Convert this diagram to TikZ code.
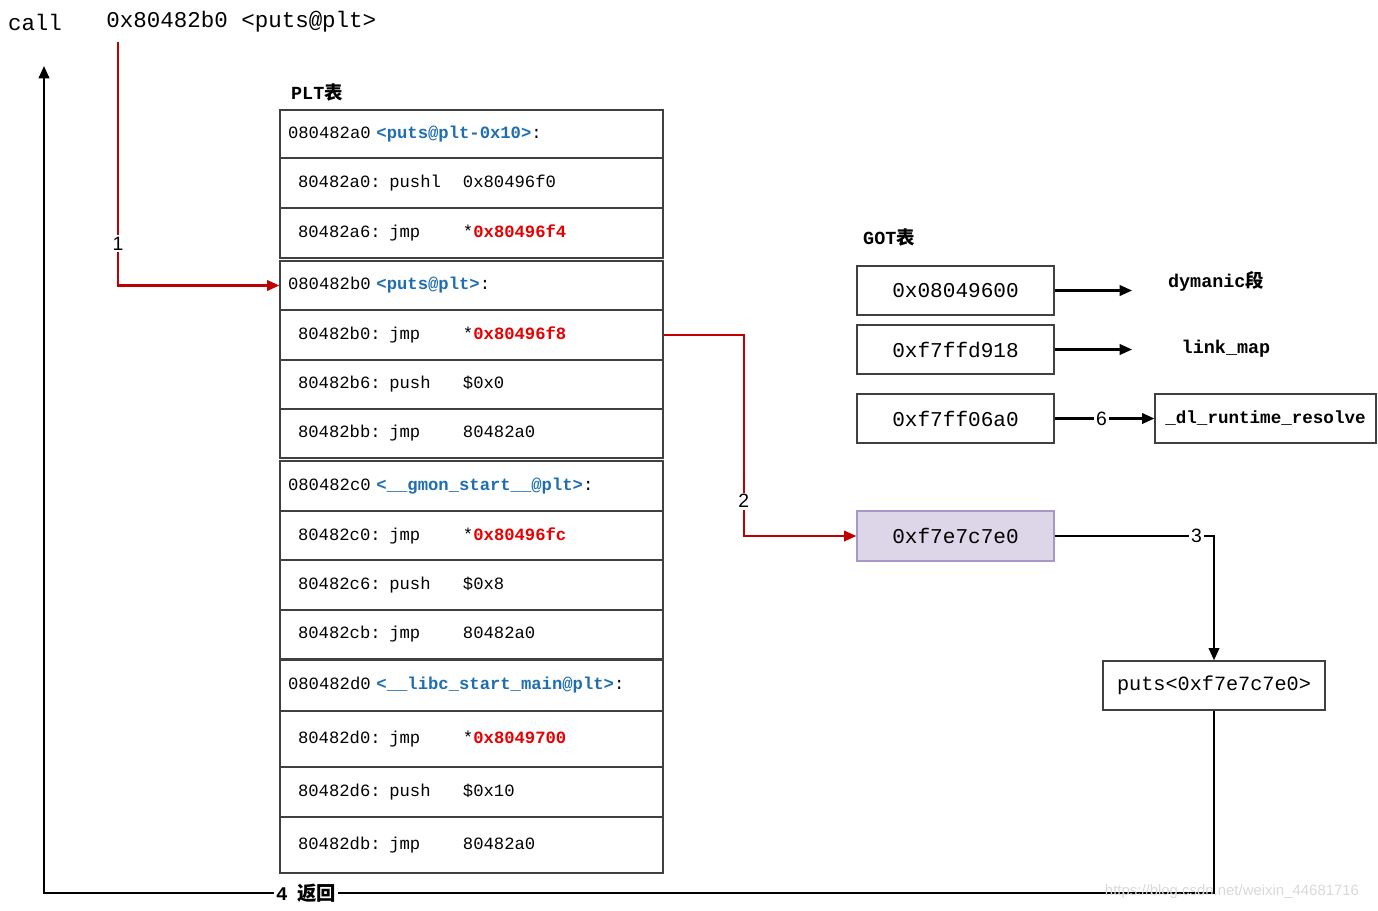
\documentclass[tikz,border=0pt]{standalone}
\usepackage{fontspec}
\setmainfont{Liberation Mono}
\setsansfont{Liberation Sans}
\newfontfamily\cjk{Noto Sans CJK SC}
\usetikzlibrary{arrows.meta}
\definecolor{symblue}{RGB}{31,110,175}
\definecolor{addrred}{RGB}{230,0,0}
\definecolor{flowred}{RGB}{192,0,0}
\definecolor{gotfill}{RGB}{221,214,232}
\definecolor{gotdraw}{RGB}{168,152,200}
\definecolor{boxline}{RGB}{64,64,64}
\newcommand\sym[1]{\textcolor{symblue}{\textbf{#1}}}
\newcommand\addr[1]{\textcolor{addrred}{\textbf{#1}}}
\newcommand\insn[2]{\makebox[3.3cm][l]{#1}#2}

\begin{document}
\begin{tikzpicture}[x=0.02cm, y=-0.02cm]
  \tikzset{
    hdr/.style={draw=boxline, line width=0.8pt, minimum width=7.66cm, minimum height=#1,
      text width=7.34cm, inner xsep=0.16cm, inner ysep=0pt, align=left,
      font=\fontsize{9.8}{12}\selectfont},
    ins/.style={hdr=#1, text width=6.94cm, inner xsep=0.36cm},
    gotbox/.style={draw=boxline, line width=0.8pt, minimum width=3.94cm, minimum height=0.98cm,
      inner sep=0pt, font=\fontsize{12}{14}\selectfont},
    title/.style={font=\bfseries\fontsize{10.5}{12}\selectfont},
    flow/.style={draw=flowred, line width=1.2pt, -{Triangle[length=7pt,width=6pt]}},
    link/.style={line width=1.2pt, -{Triangle[length=7pt,width=6pt]}},
    numlabel/.style={fill=white, inner sep=1pt, font=\sffamily\fontsize{11}{12}\selectfont}
  }
  \useasboundingbox (0,0) rectangle (1378,910);

  % Call
  \node[font=\fontsize{12.8}{14}\selectfont] (callop) at (35,22) {call};
  \node[font=\fontsize{12.8}{14}\selectfont, anchor=west, inner sep=0pt] (callt) at (106,22) {0x80482b0 <puts@plt>};

  % PLT
  \node[title] (pltt) at (317,92) {PLT{\cjk 表}};

  \node[hdr=0.96cm] (res0) at (471.5,134) {080482a0 \sym{<puts@plt-0x10>}:};
  \node[ins=1cm] (res1) at (471.5,183) {\insn{80482a0: pushl}{0x80496f0}};
  \node[ins=1cm] (res2) at (471.5,233) {\insn{80482a6: jmp}{*\addr{0x80496f4}}};

  \node[hdr=0.98cm] (puts0) at (471.5,285.5) {080482b0 \sym{<puts@plt>}:};
  \node[ins=1cm] (puts1) at (471.5,335) {\insn{80482b0: jmp}{*\addr{0x80496f8}}};
  \node[ins=0.98cm] (puts2) at (471.5,384.5) {\insn{80482b6: push}{\$0x0}};
  \node[ins=0.98cm] (puts3) at (471.5,433.5) {\insn{80482bb: jmp}{80482a0}};

  \node[hdr=1cm] (gmon0) at (471.5,486) {080482c0 \sym{<\_\_gmon\_start\_\_@plt>}:};
  \node[ins=0.98cm] (gmon1) at (471.5,535.5) {\insn{80482c0: jmp}{*\addr{0x80496fc}}};
  \node[ins=1cm] (gmon2) at (471.5,585) {\insn{80482c6: push}{\$0x8}};
  \node[ins=0.98cm] (gmon3) at (471.5,634.5) {\insn{80482cb: jmp}{80482a0}};

  \node[hdr=1.02cm] (libc0) at (471.5,685.5) {080482d0 \sym{<\_\_libc\_start\_main@plt>}:};
  \node[ins=1.12cm] (libc1) at (471.5,739) {\insn{80482d0: jmp}{*\addr{0x8049700}}};
  \node[ins=1cm] (libc2) at (471.5,792) {\insn{80482d6: push}{\$0x10}};
  \node[ins=1.12cm] (libc3) at (471.5,845) {\insn{80482db: jmp}{80482a0}};

  % GOT
  \node[title] (gott) at (889,237) {GOT{\cjk 表}};

  \node[gotbox] (got0) at (955.5,290.5) {0x08049600};
  \node[gotbox] (got1) at (955.5,349.5) {0xf7ffd918};
  \node[gotbox] (got2) at (955.5,418.5) {0xf7ff06a0};
  \node[gotbox, fill=gotfill, draw=gotdraw, minimum height=1cm] (got3) at (955.5,536) {0xf7e7c7e0};

  \node[title] (dyn) at (1216,281) {dymanic{\cjk 段}};
  \node[title] (lmap) at (1226,349) {link\_map};
  \node[gotbox, minimum width=4.42cm, font=\bfseries\fontsize{10}{12}\selectfont] (dlres) at (1265.5,418.5) {\_dl\_runtime\_resolve};
  \node[gotbox, minimum width=4.44cm, font=\fontsize{11.5}{14}\selectfont] (putsfn) at (1214,685.5) {puts<0xf7e7c7e0>};

  % Edges
  \coordinate (c1) at (118,42);
  \coordinate (d0) at (1132,290.5);
  \coordinate (d1) at (1132,349.5);
  \coordinate (retb) at (44,893);
  \coordinate (ret) at (44,66);

  \draw[flow] (c1) |- node[numlabel, pos=0.414] {1} (puts0.west);
  \draw[flow] (puts1.east) -- ++(80,0) |- node[numlabel, pos=0.413] {2} (got3.west);
  \draw[link] (got3.east) -| node[numlabel, pos=0.445] {3} (putsfn.north);
  \draw[link] (putsfn.south) |- node[numlabel, font=\bfseries\fontsize{11}{12}\selectfont, pos=0.888] {4\enspace{\cjk 返回}} (retb) -- (ret);
  \draw[link] (got0.east) -- (d0);
  \draw[link] (got1.east) -- (d1);
  \draw[link] (got2.east) -- node[numlabel, pos=0.47] {6} (dlres.west);

  % Watermark
  \node[text=gray!30, font=\sffamily\fontsize{8.5}{10}\selectfont] (mark) at (1232,892) {https://blog.csdn.net/weixin\_44681716};
\end{tikzpicture}
\end{document}
